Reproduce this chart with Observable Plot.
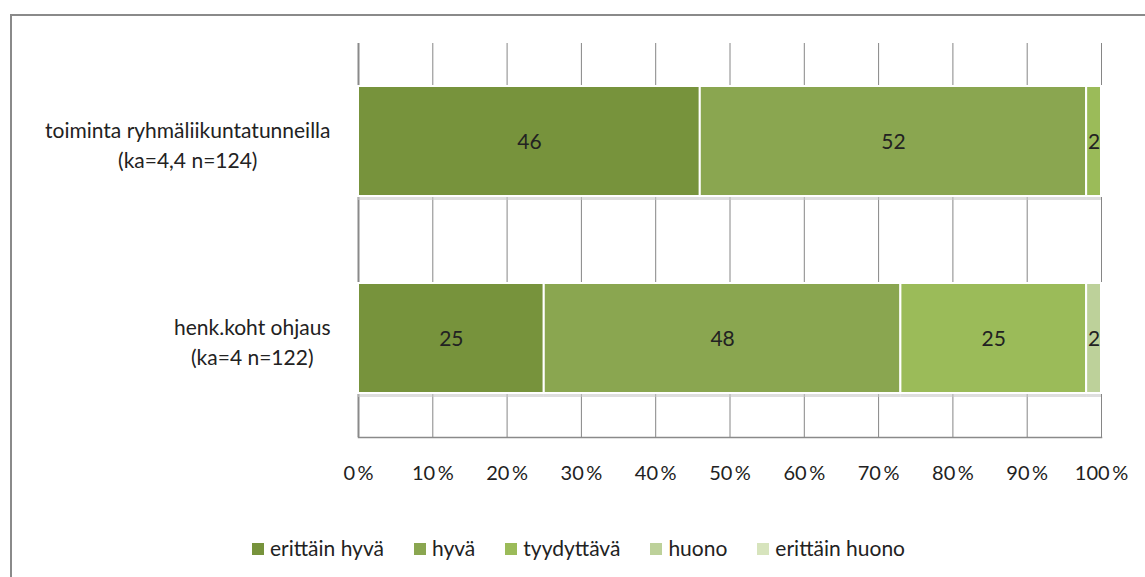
<!DOCTYPE html>
<html>
<head>
<meta charset="utf-8">
<script src="https://cdn.jsdelivr.net/npm/d3@7"></script>
<script src="https://cdn.jsdelivr.net/npm/@observablehq/plot@0.6"></script>
<style>
  html, body { margin: 0; padding: 0; background: #fff; }
  body { width: 1145px; height: 577px; overflow: hidden; position: relative; font-family: Lato, "Open Sans", sans-serif; }
  #box { position: absolute; left: 10px; top: 14px; width: 1135px; height: 563px; border-left: 2px solid #8a8a8a; border-top: 2px solid #8a8a8a; box-sizing: border-box; }
  #chart { position: absolute; left: 0; top: 0; }
  #legend { position: absolute; left: 0; top: 519px; width: 1133px; text-align: center; font-size: 21px; color: #222; white-space: nowrap; }
  #legend span.item { display: inline-block; margin: 0 15px; }
  #legend span.sw { display: inline-block; width: 12px; height: 12px; margin-right: 6px; vertical-align: 1px; }
</style>
</head>
<body>
<div id="box">
  <div id="chart"></div>
  <div id="legend"></div>
</div>
<script>
const categories = ["toiminta ryhmäliikuntatunneilla\n(ka=4,4 n=124)", "henk.koht ohjaus\n(ka=4 n=122)"];
const seriesNames = ["erittäin hyvä", "hyvä", "tyydyttävä", "huono", "erittäin huono"];
const seriesColors = ["#77933c", "#8aa650", "#9bbb59", "#bdd19a", "#d7e4bd"];
const valuesToiminta = [46, 52, 2, 0, 0];
const valuesOhjaus = [25, 48, 25, 2, 0];
const xTicks = [0, 10, 20, 30, 40, 50, 60, 70, 80, 90, 100];

const rows = [valuesToiminta, valuesOhjaus];
const data = [];
categories.forEach((c, i) => seriesNames.forEach((s, j) => data.push({cat: c, series: s, value: rows[i][j]})));

const W = 1133, H = 500;
const fontFam = "Lato, 'Open Sans', sans-serif";
const ctx = document.createElement("canvas").getContext("2d");
ctx.font = "21px " + fontFam;
const labelRight = 330 - 12; // right edge of label block in svg coords
const marginLeft = 346;

const yLabelMarks = categories.map(c => {
  const w = d3.max(c.split("\n"), l => ctx.measureText(l).width);
  const center = labelRight - w / 2;
  return Plot.text([c], {y: d => d, text: d => d, frameAnchor: "left", textAnchor: "middle", dx: center - marginLeft, dy: 2, fontSize: 21, fill: "#222", lineHeight: 1.4});
});

const chart = Plot.plot({
  width: W,
  height: H,
  marginLeft: marginLeft,
  marginRight: 44,
  marginTop: 27,
  marginBottom: 79,
  style: {fontFamily: fontFam, fontSize: "21px", color: "#222", background: "transparent"},
  x: {domain: [0, 100], label: null},
  y: {domain: categories, paddingInner: 0.44, paddingOuter: 0.22, label: null, axis: null},
  color: {domain: seriesNames, range: seriesColors},
  marks: [
    Plot.gridX(xTicks, {stroke: "#868686", strokeOpacity: 1, strokeWidth: 1}),
    Plot.ruleX([0], {stroke: "#8a8a8a", strokeWidth: 2}),
    Plot.frame({anchor: "bottom", stroke: "#8a8a8a", strokeWidth: 1.5}),
    Plot.axisX(xTicks, {tickSize: 0, tickPadding: 28, tickFormat: d => d + "\u2009%", fontSize: 20, fill: "#222", label: null, style: "letter-spacing:1.5px"}),
    Plot.barX(data.filter(d => d.value > 0), Plot.stackX({x: "value", y: "cat", z: "series", order: seriesNames, fill: "#c8c8c8", fillOpacity: 0.6, dy: 4})),
    Plot.barX(data.filter(d => d.value > 0), Plot.stackX({x: "value", y: "cat", fill: "series", order: seriesNames, stroke: "white", strokeWidth: 2})),
    Plot.text(data.filter(d => d.value > 0), Plot.stackX({x: "value", y: "cat", z: "series", order: seriesNames, text: d => String(d.value), fontSize: 21, fill: "#222", dy: 1})),
    ...yLabelMarks
  ]
});
document.getElementById("chart").appendChild(chart);

const legend = document.getElementById("legend");
seriesNames.forEach((s, i) => {
  const item = document.createElement("span");
  item.className = "item";
  const sw = document.createElement("span");
  sw.className = "sw";
  sw.style.background = seriesColors[i];
  item.appendChild(sw);
  item.appendChild(document.createTextNode(s));
  legend.appendChild(item);
});
</script>
</body>
</html>
